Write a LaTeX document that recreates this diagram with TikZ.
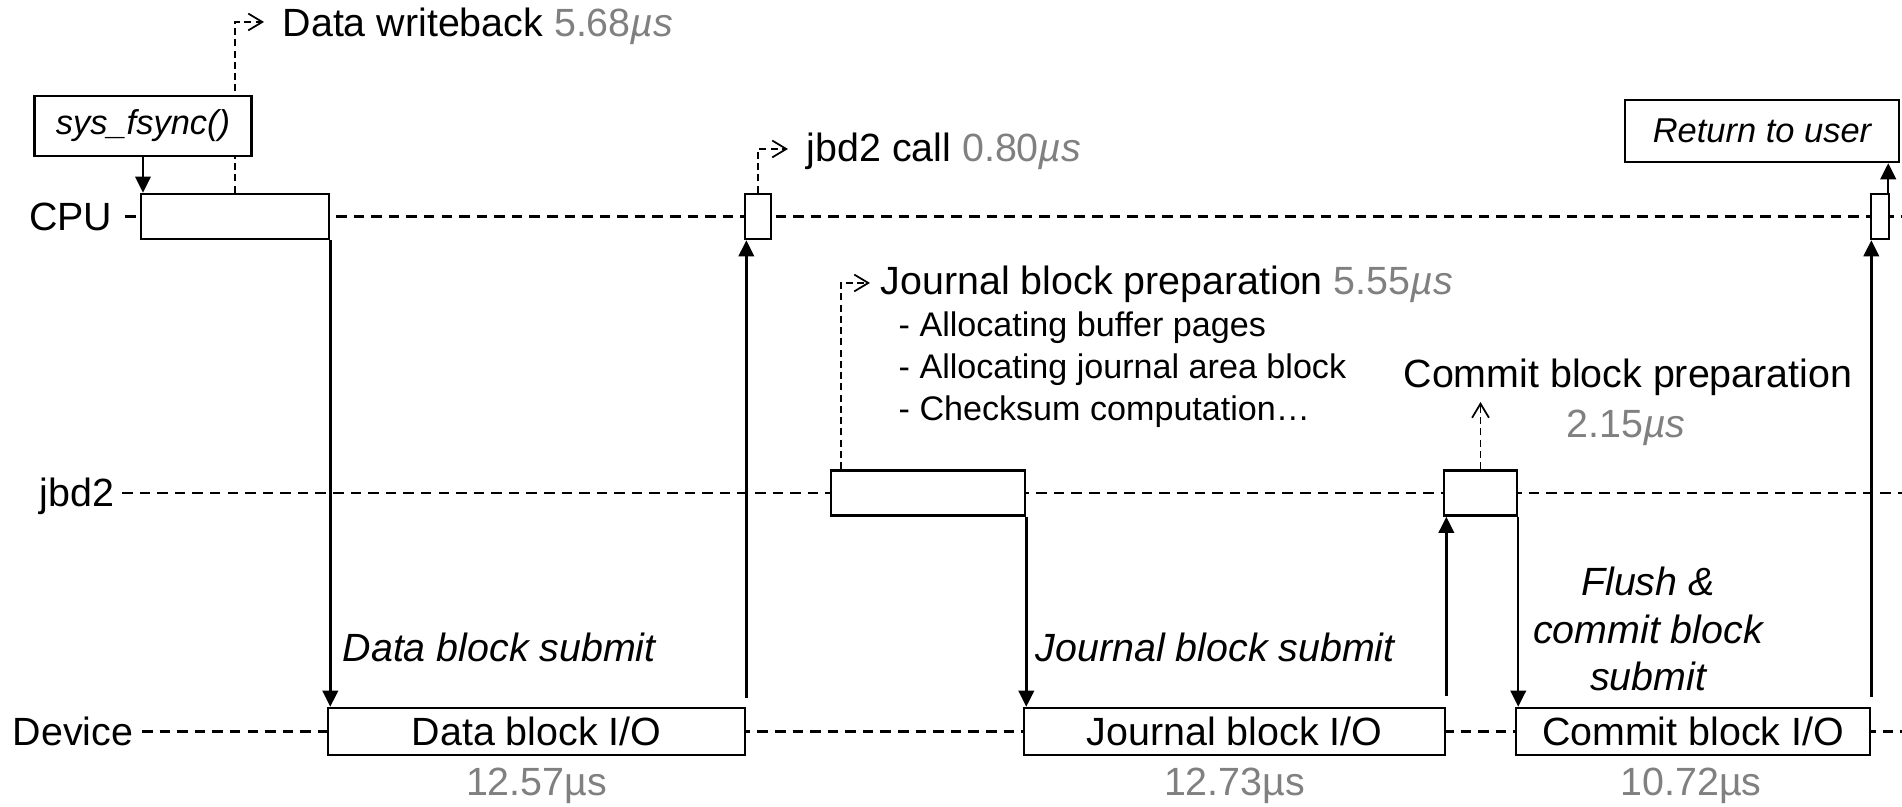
\documentclass[tikz,border=0pt]{standalone}
\usepackage{fontspec}
\setmainfont{Liberation Sans}
\usetikzlibrary{arrows.meta}
\definecolor{numgray}{RGB}{128,128,128}
\begin{document}
\begin{tikzpicture}[x=0.01cm, y=-0.01cm,
  lbl/.style={font=\fontsize{11.2}{13.4}\selectfont, inner sep=0pt},
  itl/.style={font=\fontsize{11.2}{13.4}\selectfont\itshape, inner sep=0pt},
  listtxt/.style={font=\fontsize{9.7}{11.95}\selectfont, inner sep=0pt, align=left},
  num/.style={lbl, text=numgray},
  lane/.style={line width=0.7pt, dash pattern=on 3pt off 2pt},
  hook/.style={line width=0.45pt, dash pattern=on 2pt off 1.2pt,
    -{Straight Barb[length=4pt,width=4.8pt,line width=0.5pt]}},
  flow/.style={line width=0.7pt, -{Triangle[length=4.6pt,width=4.4pt]}},
  slot/.style={draw, line width=0.7pt, fill=white, minimum height=0.45cm, inner sep=0pt},
  iobox/.style={slot, minimum height=0.47cm, font=\fontsize{11.2}{13.4}\selectfont},
  callbox/.style={draw, line width=0.65pt, fill=white, inner sep=0pt,
    font=\fontsize{9.8}{11.8}\selectfont\itshape},
]
\useasboundingbox (0,0) rectangle (1902,807);

% lane names
\node[lbl, anchor=base east] (cpuL) at (113,230.5) {CPU};
\node[lbl, anchor=base east] (jL) at (115,507) {jbd2};
\node[lbl, anchor=base east] (dL) at (134,745.5) {Device};

% lane time lines
\coordinate (cpuS) at (125,216.5); \coordinate (cpuE) at (1902,216.5);
\coordinate (jS) at (122,493);     \coordinate (jE) at (1902,493);
\coordinate (dS) at (142,731.5);   \coordinate (dE) at (1902,731.5);
\draw[lane] (cpuS) -- (cpuE);
\draw[lane] (jS) -- (jE);
\draw[lane] (dS) -- (dE);

% activity slots
\node[slot, minimum width=1.88cm] (c1) at (235,216.5) {};
\node[slot, minimum width=0.26cm] (c2) at (758,216.5) {};
\node[slot, minimum width=0.18cm] (c3) at (1880,216.5) {};
\node[slot, minimum width=1.94cm] (j1) at (928,493) {};
\node[slot, minimum width=0.73cm] (j2) at (1480.5,493) {};
\node[iobox, minimum width=4.17cm] (d1) at (536.5,731.5) {Data block I/O};
\node[iobox, minimum width=4.21cm] (d2) at (1234.5,731.5) {Journal block I/O};
\node[iobox, minimum width=3.54cm] (d3) at (1693,731.5) {Commit block I/O};

% dashed call-outs
\coordinate (wbT) at (264,22);
\draw[hook] (c1.north) |- (wbT);
\coordinate (jcT) at (788,149);
\draw[hook] (c2.north) |- (jcT);
\coordinate (jpT) at (870,283);
\draw[hook] ([xshift=0.11cm]j1.north west) |- (jpT);
\coordinate (cpT) at (1480.5,402);
\draw[hook] (j2.north) -- (cpT);

% system call entry and exit
\node[callbox, minimum width=2.17cm, minimum height=0.60cm] (sys) at (143,126) {sys\_fsync()};
\node[callbox, minimum width=2.74cm, minimum height=0.62cm] (ret) at (1762,131) {Return to user};

% control flow
\draw[flow] (sys.south) -- (sys.south |- c1.north);
\draw[flow] (c1.south east) -- (c1.south east |- d1.north);
\draw[flow] ([yshift=0.09cm]d1.north east) -- (d1.north east |- c2.south);
\draw[flow] (j1.south east) -- (j1.south east |- d2.north);
\draw[flow] ([yshift=0.11cm]d2.north east) -- (d2.north east |- j2.south);
\draw[flow] (j2.south east) -- (j2.south east |- d3.north);
\draw[flow] ([yshift=0.1cm]d3.north east) -- (d3.north east |- c3.south);
\draw[flow] ([xshift=-0.02cm]c3.north east) -- ([xshift=-0.02cm]c3.north east |- ret.south);

% annotations
\node[lbl, anchor=base west] (wb) at (282,37) {Data writeback \textcolor{numgray}{5.68\textit{µs}}};
\node[lbl, anchor=base west] (jc) at (806,162) {jbd2 call \textcolor{numgray}{0.80\textit{µs}}};
\node[lbl, anchor=base west] (jp) at (880,295) {Journal block preparation \textcolor{numgray}{5.55\textit{µs}}};
\node[listtxt, anchor=west] (jl) at (898,370) {- Allocating buffer pages\\- Allocating journal area block\\- Checksum computation…};
\node[lbl, anchor=base] (cp) at (1628,388) {Commit block preparation};
\node[num, anchor=base] (cpn) at (1626,438) {2.15\textit{µs}};

\node[itl, anchor=base west] (ds) at (342,662) {Data block submit};
\node[itl, anchor=base west] (js) at (1035,662) {Journal block submit};
\node[itl, align=center] (fl) at (1648,629) {Flush \&\\commit block\\submit};

\node[num, anchor=base] (n1) at (536.5,796) {12.57µs};
\node[num, anchor=base] (n2) at (1234.5,796) {12.73µs};
\node[num, anchor=base] (n3) at (1691,796) {10.72µs};
\end{tikzpicture}
\end{document}
